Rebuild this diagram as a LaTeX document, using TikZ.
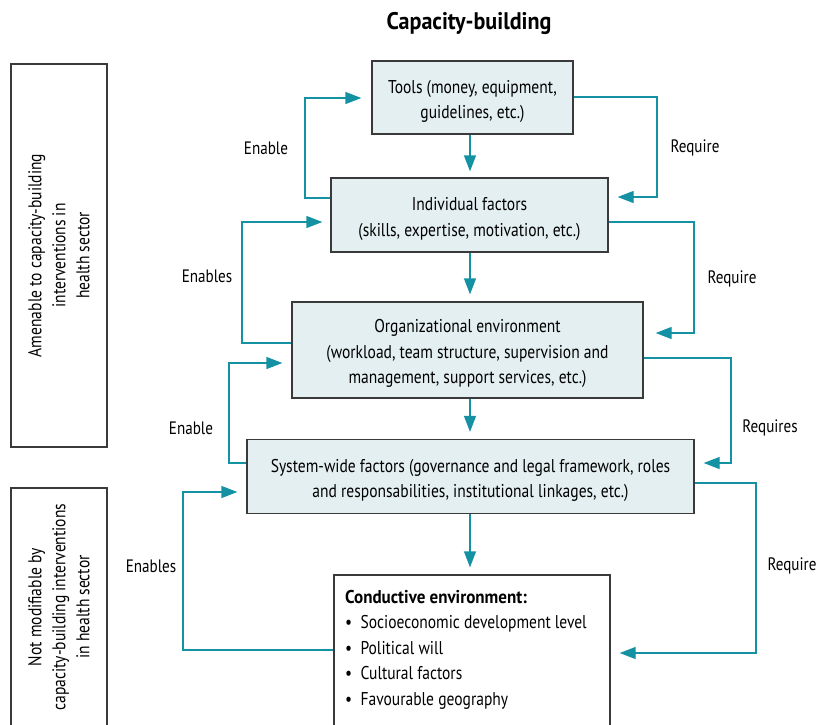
\documentclass[tikz,border=0pt]{standalone}
\usepackage{fontspec}
\setmainfont{PT Sans}[FakeStretch=0.84, BoldFeatures={FakeStretch=0.92}]
\usetikzlibrary{arrows.meta}
\definecolor{tealc}{HTML}{1492A3}
\definecolor{boxfill}{HTML}{E4EFF1}
\definecolor{bordc}{HTML}{3A3A3A}
\newcommand{\mytopstrut}{\rule{0pt}{21pt}}
\begin{document}
\begin{tikzpicture}[x=1pt,y=-1pt,
  font=\fontsize{18.5}{25.5}\selectfont,
  box/.style={draw=bordc, fill=boxfill, line width=1.3pt, align=center, inner sep=0pt},
  sidebox/.style={draw=bordc, line width=1.1pt, align=center, inner sep=0pt, rotate=90,
    font=\fontsize{18.5}{24}\selectfont},
  arr/.style={draw=tealc, line width=1.3pt, -{Triangle[length=16pt,width=12pt]}},
  lbl/.style={inner sep=0pt, anchor=center, font=\fontsize{18}{24}\selectfont}]
\useasboundingbox (0,0) rectangle (819,724);
% title
\node[font=\fontsize{24}{28}\selectfont\bfseries] (title) at (469,23) {Capacity-building};
% side boxes
\node[sidebox, minimum width=383pt, minimum height=96pt] (side1) at (59,255.5)
  {Amenable to capacity-building\\ interventions in\\ health sector};
\node[sidebox, minimum width=238pt, minimum height=96pt] (side2) at (59,607)
  {Not modifiable by\\ capacity-building interventions\\ in health sector};
% main boxes
\node[box, minimum width=201pt, minimum height=73pt] (tools) at (472.5,97.5)
  {\mytopstrut Tools (money, equipment,\\ guidelines, etc.)};
\node[box, minimum width=277pt, minimum height=74pt] (indiv) at (469.5,215)
  {\mytopstrut Individual factors\\ (skills, expertise, motivation, etc.)};
\node[box, minimum width=351pt, minimum height=96pt] (org) at (467.5,350)
  {\mytopstrut Organizational environment\\ (workload, team structure, supervision and\\ management, support services, etc.)};
\node[box, minimum width=447pt, minimum height=74pt] (sys) at (470.5,476.5)
  {\mytopstrut System-wide factors (governance and legal framework, roles\\ and responsabilities, institutional linkages, etc.)};
\node[draw=bordc, fill=white, line width=1.3pt, minimum width=276pt, minimum height=155pt, inner sep=0pt] (cond) at (472,652.5) {};
\node[anchor=north west, align=left, inner sep=0pt] (condtext) at (345,590)
  {\textbf{Conductive environment:}\\
   \textbullet\ \ Socioeconomic development level\\
   \textbullet\ \ Political will\\
   \textbullet\ \ Cultural factors\\
   \textbullet\ \ Favourable geography};
% level coordinates
\coordinate (ax) at (470,0);
\coordinate (e1a) at (0,198); \coordinate (e1b) at (305,98);
\coordinate (r1a) at (0,97);  \coordinate (r1b) at (657,197);
\coordinate (e2a) at (0,343); \coordinate (e2b) at (242,222);
\coordinate (r2a) at (0,222); \coordinate (r2b) at (694,333);
\coordinate (e3a) at (0,463); \coordinate (e3b) at (229,363);
\coordinate (r3a) at (0,358); \coordinate (r3b) at (731,463);
\coordinate (e4a) at (0,650); \coordinate (e4b) at (183,492);
\coordinate (r4a) at (0,483); \coordinate (r4b) at (756,653);
% vertical arrows
\draw[arr, shorten >=6pt] (tools.south -| ax) -- (indiv.north -| ax);
\draw[arr, shorten >=7pt] (indiv.south -| ax) -- (org.north -| ax);
\draw[arr, shorten >=7pt] (org.south -| ax) -- (sys.north -| ax);
\draw[arr, shorten >=7pt] (sys.south -| ax) -- (cond.north -| ax);
% loops
\draw[arr, shorten >=10pt] (indiv.west |- e1a) -| (e1b) -- (tools.west |- e1b);
\draw[arr, shorten >=9pt] (tools.east |- r1a) -| (r1b) -- (indiv.east |- r1b);
\draw[arr, shorten >=8pt] (org.west |- e2a) -| (e2b) -- (indiv.west |- e2b);
\draw[arr, shorten >=12pt] (indiv.east |- r2a) -| (r2b) -- (org.east |- r2b);
\draw[arr, shorten >=9pt] (sys.west |- e3a) -| (e3b) -- (org.west |- e3b);
\draw[arr, shorten >=9pt] (org.east |- r3a) -| (r3b) -- (sys.east |- r3b);
\draw[arr, shorten >=9pt] (cond.west |- e4a) -| (e4b) -- (sys.west |- e4b);
\draw[arr, shorten >=9pt] (sys.east |- r4a) -| (r4b) -- (cond.east |- r4b);
% labels
\node[lbl] (l1) at (266,148) {Enable};
\node[lbl] (l2) at (695,148) {Require};
\node[lbl] (l3) at (207,276) {Enables};
\node[lbl] (l4) at (732,279) {Require};
\node[lbl] (l5) at (191,428) {Enable};
\node[lbl] (l6) at (770,428) {Requires};
\node[lbl] (l7) at (151,566) {Enables};
\node[lbl] (l8) at (792,566) {Require};
\end{tikzpicture}
\end{document}
